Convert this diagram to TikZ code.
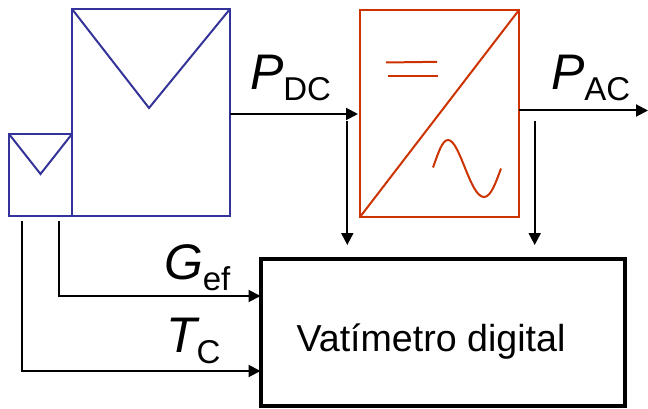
\documentclass[tikz,border=0pt]{standalone}
\usepackage{fontspec}
\setmainfont{Liberation Sans}
\usetikzlibrary{arrows.meta}
\definecolor{pvblue}{HTML}{333399}
\definecolor{invred}{HTML}{CC3300}
\newcommand{\qsym}[2]{{\fontsize{50}{50}\selectfont\itshape #1}\raisebox{-11pt}{\fontsize{33}{33}\selectfont #2}}
\tikzset{
  pvbox/.style={draw=pvblue,line width=2pt,rectangle,inner sep=0pt,outer sep=0pt},
  invbox/.style={draw=invred,line width=2pt,rectangle,inner sep=0pt,outer sep=0pt},
  pvline/.style={draw=pvblue,line width=2pt},
  invline/.style={draw=invred,line width=2pt},
  meterbox/.style={draw=black,line width=4pt,rectangle,inner sep=0pt,outer sep=0pt},
  wire/.style={draw=black,line width=2pt},
  flow/.style={wire,-{Triangle[length=12pt,width=12pt]}},
  qty/.style={anchor=base west,inner sep=0pt,outer sep=0pt}
}
\begin{document}
\begin{tikzpicture}[x=1pt,y=-1pt]
\useasboundingbox (0,0) rectangle (648,409);
% boxes
\node[pvbox,minimum width=158pt,minimum height=207pt] (big) at (151,112.5) {};
\node[pvbox,minimum width=63pt,minimum height=82pt] (small) at (40.5,175) {};
\node[invbox,minimum width=159pt,minimum height=207pt] (inv) at (439.5,113.5) {};
\node[meterbox,minimum width=364pt,minimum height=147pt] (meter) at (442.5,332) {};
\node[anchor=base,inner sep=0pt] (metertext) at (431,351) {\fontsize{37.6}{37.6}\selectfont Vatímetro digital};
% module symbols
\coordinate (bigv) at (149,108);
\coordinate (smallv) at (40.5,174);
\draw[pvline] (big.north west) -- (bigv) -- (big.north east);
\draw[pvline] (small.north west) -- (smallv) -- (small.north east);
% inverter symbols
\draw[invline] (inv.south west) -- (inv.north east);
\coordinate (dca) at (386,62.5); \coordinate (dcb) at (437,61.8);
\coordinate (dcc) at (387.5,76); \coordinate (dcd) at (438,76);
\draw[invline] (dca) -- (dcb);
\draw[invline] (dcc) -- (dcd);
\coordinate (sa) at (433,167.5); \coordinate (sb) at (448,140);
\coordinate (sc) at (484,197); \coordinate (sd) at (501,168.5);
\draw[invline] (sa) .. controls (438,154) and (442,140) .. (sb)
  .. controls (460,140) and (470,197) .. (sc)
  .. controls (491,197) and (496,182) .. (sd);
% labels
\node[qty] (pdc) at (250,90) {\qsym{P}{DC}};
\node[qty] (pac) at (551,90) {\qsym{P}{AC}};
\node[qty] (gef) at (164,279) {\qsym{G}{ef}};
\node[qty] (tc) at (166,352) {\qsym{T}{C}};
% connectors
\coordinate (dcin) at (230,114);
\coordinate (dcend) at (358,114);
\draw[flow] (dcin) -- (dcend);
\coordinate (acout) at (519,110.5);
\coordinate (acend) at (648,110.5);
\draw[flow] (acout) -- (acend);
\coordinate (dctap) at (347.3,121);
\coordinate (dcdown) at (347.3,245);
\draw[flow] (dctap) -- (dcdown);
\coordinate (actap) at (534.7,121);
\coordinate (acdown) at (534.7,245);
\draw[flow] (actap) -- (acdown);
\coordinate (gtap) at (59,221);
\coordinate (ttap) at (22,221);
\coordinate (gy) at (59,296);
\coordinate (ty) at (22,371);
\draw[flow] (gtap) -- (gy) -- (meter.west |- gy);
\draw[flow] (ttap) -- (ty) -- (meter.west |- ty);
\end{tikzpicture}
\end{document}
